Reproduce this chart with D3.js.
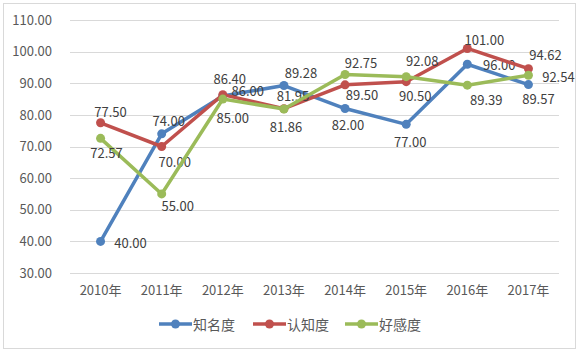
<!DOCTYPE html>
<meta charset="utf-8">
<script src="https://d3js.org/d3.v7.min.js"></script>
<style>
  body { margin: 0; background: #fff; }
  text { font-family: "Noto Sans CJK SC", "Noto Sans", sans-serif; }
</style>
<div class="canvas"></div>
<script>
    const width = 581
    const height = 354

    // data
    const years = ["2010年", "2011年", "2012年", "2013年", "2014年", "2015年", "2016年", "2017年"]
    const seriesNames = ["知名度", "认知度", "好感度"]
    const zhiming = [40.00, 74.00, 86.00, 89.28, 82.00, 77.00, 96.00, 89.57]
    const renzhi = [77.50, 70.00, 86.40, 81.95, 89.50, 90.50, 101.00, 94.62]
    const haogan = [72.57, 55.00, 85.00, 81.86, 92.75, 92.08, 89.39, 92.54]
    const yTicks = [30, 40, 50, 60, 70, 80, 90, 100, 110]

    const colors = ["#4F81BD", "#C0504D", "#9BBB59"]
    // data label offsets (dx, dy) per series, like the manually placed excel labels
    const labelOffsets = [
        [[30,1],[7,-13],[25,-5],[17,-13],[3,16],[4,17],[32,0],[10,14]],
        [[10,-11],[13,15],[7,-16],[9,-13],[17,10],[9,14],[17,-9],[17,-14]],
        [[6,14],[16,12],[10,18],[2,18],[16,-12],[16,-16],[19,14],[30,1]]
    ]

    const series = [zhiming, renzhi, haogan].map((vals, i) => ({
        name: seriesNames[i], color: colors[i], offs: labelOffsets[i],
        values: vals.map((v, j) => ({year: years[j], value: v}))
    }))

    const margin = {top: 20, right: 22, bottom: 81, left: 70}
    const graphWidth = width - margin.left - margin.right
    const graphHeight = 273 - margin.top

    const svg = d3.select(".canvas").append("svg")
        .attr("width", width).attr("height", height)

    svg.append("rect")
        .attr("x", 3.5).attr("y", 3.5)
        .attr("width", 572).attr("height", 345)
        .attr("fill", "#fff").attr("stroke", "#D9D9D9")

    const graph = svg.append("g")
        .attr("transform", `translate(${margin.left},${margin.top})`)

    const x = d3.scaleBand().domain(years).range([0, graphWidth])
    const y = d3.scaleLinear().domain([30, 110]).range([graphHeight, 0])
    const cx = d => x(d) + x.bandwidth() / 2

    // grid lines
    graph.selectAll(".grid").data(yTicks).enter()
        .append("line")
        .attr("x1", 0).attr("x2", graphWidth)
        .attr("y1", d => Math.round(y(d)) + 0.5).attr("y2", d => Math.round(y(d)) + 0.5)
        .attr("stroke", "#D9D9D9").attr("stroke-width", 1)

    // y axis labels
    const yAxis = d3.axisLeft(y).tickValues(yTicks).tickFormat(d3.format(".2f")).tickSize(0).tickPadding(18)
    const gY = graph.append("g").call(yAxis)
    gY.select(".domain").remove()
    gY.selectAll("text").style("font-size", "13px").attr("fill", "#595959")
        .style("font-family", "'Noto Sans CJK SC', sans-serif")

    // x axis labels
    const xAxis = d3.axisBottom(x).tickSize(0).tickPadding(13)
    const gX = graph.append("g").attr("transform", `translate(0,${graphHeight})`).call(xAxis)
    gX.select(".domain").remove()
    gX.selectAll("text").style("font-size", "13px").attr("fill", "#595959")
        .style("font-family", "'Noto Sans CJK SC', sans-serif")

    const line = d3.line().x(d => cx(d.year)).y(d => y(d.value))

    const sg = graph.selectAll(".series").data(series).enter().append("g")

    sg.append("path")
        .attr("d", d => line(d.values))
        .attr("fill", "none")
        .attr("stroke", d => d.color)
        .attr("stroke-width", 3.5)
        .attr("stroke-linejoin", "round")
        .attr("stroke-linecap", "round")

    sg.selectAll("circle").data(d => d.values.map(v => ({...v, color: d.color}))).enter()
        .append("circle")
        .attr("cx", d => cx(d.year)).attr("cy", d => y(d.value))
        .attr("r", 4.5).attr("fill", d => d.color)

    // data labels
    sg.selectAll(".lbl").data(d => d.values.map((v, j) => ({...v, off: d.offs[j]}))).enter()
        .append("text")
        .attr("x", d => cx(d.year) + d.off[0])
        .attr("y", d => y(d.value) + d.off[1])
        .attr("text-anchor", "middle")
        .attr("dominant-baseline", "central")
        .style("font-size", "13px")
        .attr("fill", "#404040")
        .text(d => d.value.toFixed(2))

    // legend
    const legendX = [159, 253, 345]
    const legend = svg.selectAll(".legend").data(series).enter().append("g")
        .attr("transform", (d, i) => `translate(${legendX[i]},324)`)
    legend.append("line")
        .attr("x1", 0).attr("x2", 33).attr("y1", 0).attr("y2", 0)
        .attr("stroke", d => d.color).attr("stroke-width", 3.5)
    legend.append("circle").attr("cx", 16.5).attr("cy", 0).attr("r", 4.5)
        .attr("fill", d => d.color)
    legend.append("text")
        .attr("x", 34).attr("y", 0)
        .attr("dominant-baseline", "central")
        .style("font-size", "14px").attr("fill", "#595959")
        .text(d => d.name)
</script>
